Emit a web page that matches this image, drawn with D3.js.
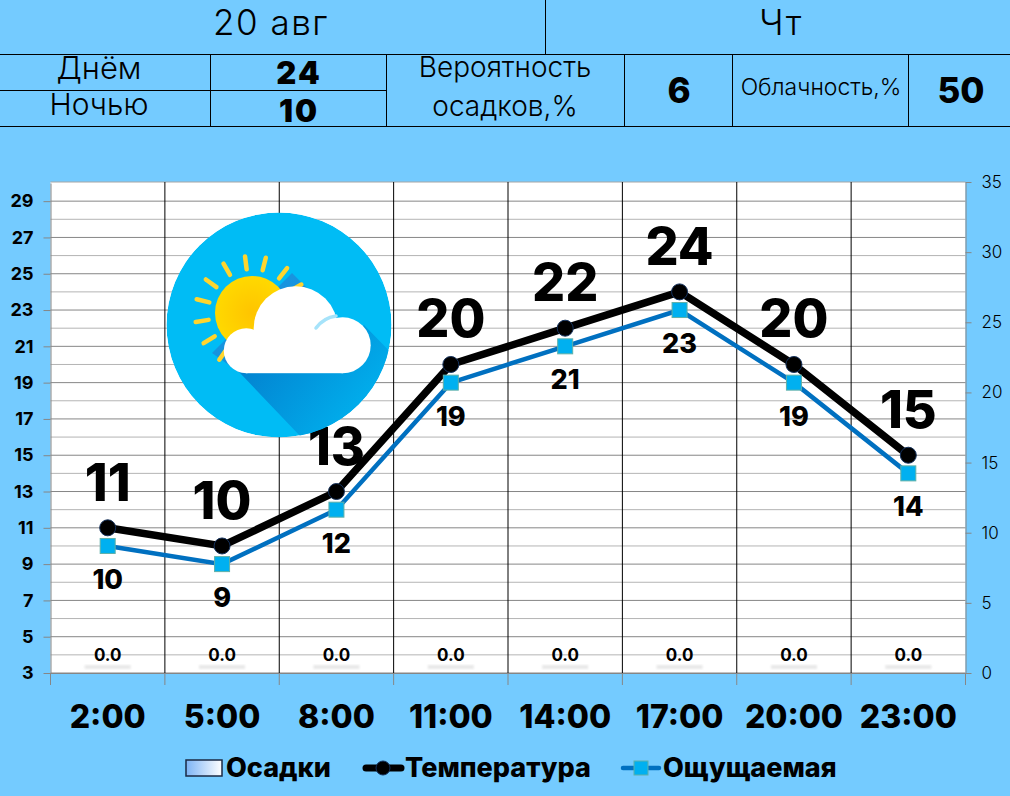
<!DOCTYPE html>
<html>
<head>
    <meta charset="utf-8"/>
    <title>Погода 20 авг</title>
    <script src="https://d3js.org/d3.v7.min.js"></script>
    <style>
        html, body { margin: 0; padding: 0; background: #74cbff; }
        svg { display: block; }
        text { font-family: Inter, "Noto Sans", sans-serif; fill: #000; }
    </style>
</head>
<body>
<div id="chart"></div>
<script>
    const hours = ['2:00', '5:00', '8:00', '11:00', '14:00', '17:00', '20:00', '23:00']
    const temperature = [11, 10, 13, 20, 22, 24, 20, 15]
    const feelsLike = [10, 9, 12, 19, 21, 23, 19, 14]
    const precipitation = [0, 0, 0, 0, 0, 0, 0, 0]
    const leftTicks = [3, 5, 7, 9, 11, 13, 15, 17, 19, 21, 23, 25, 27, 29]
    const minorTicks = [4, 6, 8, 10, 12, 14, 16, 18, 20, 22, 24, 26, 28]
    const rightTicks = [0, 5, 10, 15, 20, 25, 30, 35]
    const dayTitle = ['20 авг', 'Чт']
    const summaryLabels = ['Днём', 'Ночью']
    const summaryValues = ['24', '10']
    const rayAngles = [-166, -144, -120, -97, -76, -52, -30, 125, 148, 171]

    const width = 1010
    const height = 796
    const plot = { left: 50.5, right: 965.5, top: 182, bottom: 673 }
    const BG = '#74cbff'
    const LINE_DARK = '#000000'

    const svg = d3.select('#chart').append('svg')
        .attr('width', width).attr('height', height)
    svg.append('rect').attr('width', width).attr('height', height).attr('fill', BG)

    const defs = svg.append('defs')
    const swatchGrad = defs.append('linearGradient').attr('id', 'swatch')
    swatchGrad.append('stop').attr('offset', '0%').attr('stop-color', '#7db4f5')
    swatchGrad.append('stop').attr('offset', '100%').attr('stop-color', '#ffffff')
    const shadowGrad = defs.append('linearGradient').attr('id', 'longShadow')
        .attr('x1', '0%').attr('y1', '0%').attr('x2', '100%').attr('y2', '60%')
    shadowGrad.append('stop').attr('offset', '0%').attr('stop-color', '#0478c9')
    shadowGrad.append('stop').attr('offset', '100%').attr('stop-color', '#00b4f0')
    const sunShadeGrad = defs.append('linearGradient').attr('id', 'sunShade')
        .attr('x1', '0%').attr('y1', '0%').attr('x2', '100%').attr('y2', '100%')
    sunShadeGrad.append('stop').attr('offset', '0%').attr('stop-color', '#1f97e0')
    sunShadeGrad.append('stop').attr('offset', '100%').attr('stop-color', '#0a8fdc')
    const sunGrad = defs.append('radialGradient').attr('id', 'sun')
    sunGrad.append('stop').attr('offset', '0%').attr('stop-color', '#ffc400')
    sunGrad.append('stop').attr('offset', '100%').attr('stop-color', '#ffd900')
    defs.append('filter').attr('id', 'blur').append('feGaussianBlur').attr('stdDeviation', 1)
    defs.append('clipPath').attr('id', 'iconClip').append('circle').attr('r', 112.5)

    drawHeader()
    drawPlot()
    drawIcon()
    drawLegend()

    function hLine(x1, x2, y) {
        svg.append('line').attr('x1', x1).attr('x2', x2).attr('y1', y).attr('y2', y)
            .attr('stroke', LINE_DARK).attr('stroke-width', 1)
    }

    function vLine(x, y1, y2) {
        svg.append('line').attr('x1', x).attr('x2', x).attr('y1', y1).attr('y2', y2)
            .attr('stroke', LINE_DARK).attr('stroke-width', 1)
    }

    function label(x, y, str, size, weight, spacing) {
        return svg.append('text').attr('x', x).attr('y', y)
            .attr('text-anchor', 'middle')
            .attr('font-size', size).attr('font-weight', weight)
            .attr('letter-spacing', spacing || 0)
            .text(str)
    }

    function drawHeader() {
        hLine(0, width, 54.5)
        hLine(0, 386, 90.5)
        hLine(0, width, 126.5)
        vLine(545.5, 0, 54)
        ;[210.5, 386.5, 624.5, 732.5, 908.5].forEach(x => vLine(x, 54, 126))

        label(271, 35, dayTitle[0], 35, 300, 1.5)
        label(781, 35, dayTitle[1], 35, 300, 1.5)
        label(99, 79, summaryLabels[0], 31, 300)
        label(99, 115, summaryLabels[1], 30, 300)
        label(299, 84, summaryValues[0], 31, 900, 2)
        label(299, 122, summaryValues[1], 31, 900, 2)
        label(505, 77, 'Вероятность', 28, 300)
        label(505, 116, 'осадков,%', 28, 300)
        label(679, 103, '6', 35, 800)
        label(821, 95, 'Облачность,%', 23, 300)
        label(961, 103, '50', 35, 800)
    }

    function drawPlot() {
        const x = d3.scaleBand().domain(hours).range([plot.left, plot.right])
        const yLeft = d3.scaleLinear().domain([3, 30]).range([plot.bottom, plot.top + 1])
        const yRight = d3.scaleLinear().domain([0, 35]).range([plot.bottom, plot.top])
        const cx = d => x(d) + x.bandwidth() / 2

        svg.append('rect')
            .attr('x', plot.left).attr('y', plot.top)
            .attr('width', plot.right - plot.left).attr('height', plot.bottom - plot.top)
            .attr('fill', '#ffffff')

        // horizontal grid, odd values are darker
        svg.append('g').selectAll('line').data(minorTicks).join('line')
            .attr('x1', plot.left).attr('x2', plot.right)
            .attr('y1', d => yLeft(d)).attr('y2', d => yLeft(d))
            .attr('stroke', '#b4b4b4').attr('stroke-width', 1)
        svg.append('g').selectAll('line').data(leftTicks).join('line')
            .attr('x1', plot.left).attr('x2', plot.right)
            .attr('y1', d => yLeft(d)).attr('y2', d => yLeft(d))
            .attr('stroke', '#868686').attr('stroke-width', 1)
        svg.append('line')
            .attr('x1', plot.left).attr('x2', plot.right)
            .attr('y1', plot.top).attr('y2', plot.top)
            .attr('stroke', '#a6a6a6').attr('stroke-width', 1)

        // vertical separators between the hours
        svg.append('g').selectAll('line').data(hours.slice(1)).join('line')
            .attr('x1', d => x(d)).attr('x2', d => x(d))
            .attr('y1', plot.top).attr('y2', plot.bottom)
            .attr('stroke', '#000').attr('stroke-width', 1)

        // precipitation bars, all zero: only the soft shadow is visible
        svg.append('g').selectAll('rect').data(precipitation).join('rect')
            .attr('x', (d, i) => cx(hours[i]) - 23)
            .attr('y', d => yRight(d) - 8)
            .attr('width', 46).attr('height', 4)
            .attr('fill', '#e8e8e8').attr('filter', 'url(#blur)')
        svg.append('g').selectAll('text').data(precipitation).join('text')
            .attr('x', (d, i) => cx(hours[i]))
            .attr('y', d => yRight(d) - 12)
            .attr('text-anchor', 'middle')
            .attr('font-size', 17).attr('font-weight', 700)
            .text(d => d.toFixed(1))

        const xAxis = svg.append('g')
            .attr('transform', `translate(0,${plot.bottom})`)
            .call(d3.axisBottom(x).tickValues([]).tickSizeOuter(0))
        xAxis.select('.domain').attr('stroke', '#868686')
        svg.append('g').selectAll('line').data(hours.concat(['end'])).join('line')
            .attr('x1', (d, i) => i < hours.length ? x(d) : plot.right)
            .attr('x2', (d, i) => i < hours.length ? x(d) : plot.right)
            .attr('y1', plot.bottom).attr('y2', plot.bottom + 12)
            .attr('stroke', '#868686')
        svg.append('g').selectAll('text').data(hours).join('text')
            .attr('x', d => cx(d)).attr('y', 728)
            .attr('text-anchor', 'middle')
            .attr('font-size', 32).attr('font-weight', 800)
            .text(d => d)

        const leftAxis = svg.append('g')
            .attr('transform', `translate(${plot.left},0)`)
            .call(d3.axisLeft(yLeft).tickValues(leftTicks).tickSize(7).tickSizeOuter(0).tickPadding(10))
        leftAxis.select('.domain').attr('stroke', '#868686')
        leftAxis.selectAll('.tick line').attr('stroke', '#868686')
        leftAxis.selectAll('.tick text')
            .attr('font-family', 'Inter').attr('font-size', 18).attr('font-weight', 700).attr('fill', '#000')

        const rightAxis = svg.append('g')
            .attr('transform', `translate(${plot.right},0)`)
            .call(d3.axisRight(yRight).tickValues(rightTicks).tickSize(6).tickSizeOuter(0).tickPadding(10))
        rightAxis.select('.domain').attr('stroke', '#868686')
        rightAxis.selectAll('.tick line').attr('stroke', '#868686')
        rightAxis.selectAll('.tick text')
            .attr('font-family', 'Inter').attr('font-size', 17).attr('font-weight', 300).attr('fill', '#000')

        const lineOf = d3.line().x((d, i) => cx(hours[i])).y(d => yLeft(d))

        svg.append('path').datum(feelsLike)
            .attr('d', lineOf).attr('fill', 'none')
            .attr('stroke', '#0070c0').attr('stroke-width', 4.5)
        svg.append('path').datum(temperature)
            .attr('d', lineOf).attr('fill', 'none')
            .attr('stroke', '#000').attr('stroke-width', 7.5)

        svg.append('g').selectAll('rect').data(feelsLike).join('rect')
            .attr('x', (d, i) => cx(hours[i]) - 7.5)
            .attr('y', d => yLeft(d) - 7.5)
            .attr('width', 15).attr('height', 15)
            .attr('fill', '#00b0f0').attr('stroke', '#5fb0a8').attr('stroke-width', 1)
        svg.append('g').selectAll('circle').data(temperature).join('circle')
            .attr('cx', (d, i) => cx(hours[i]))
            .attr('cy', d => yLeft(d))
            .attr('r', 8)
            .attr('fill', '#000').attr('stroke', '#14315c').attr('stroke-width', 1)

        svg.append('g').selectAll('text').data(temperature).join('text')
            .attr('x', (d, i) => cx(hours[i]))
            .attr('y', d => yLeft(d) - 27)
            .attr('text-anchor', 'middle')
            .attr('font-size', 52).attr('font-weight', 800)
            .text(d => d)
        svg.append('g').selectAll('text').data(feelsLike).join('text')
            .attr('x', (d, i) => cx(hours[i]))
            .attr('y', d => yLeft(d) + 43)
            .attr('text-anchor', 'middle')
            .attr('font-size', 27).attr('font-weight', 800)
            .text(d => d)
    }

    function drawIcon() {
        const sunX = -27
        const sunY = -12
        const g = svg.append('g').attr('transform', 'translate(279,325)')
        const clipped = g.append('g').attr('clip-path', 'url(#iconClip)')
        clipped.append('circle').attr('r', 112.5).attr('fill', '#00bcf5')

        // long shadow of the cloud
        clipped.append('path')
            .attr('d', 'M-39,48 L22,112 L120,112 L120,36 L85,0 L60,20 Z')
            .attr('fill', 'url(#longShadow)')

        // shadow of sun and rays, stops at the cloud base
        clipped.append('path')
            .attr('d', 'M13,-52 L60,-5 L20,40 L-39,48 L-67,28 Z')
            .attr('fill', 'url(#sunShade)')

        g.append('g').selectAll('line').data(rayAngles).join('line')
            .attr('x1', d => sunX + 44 * Math.cos(d * Math.PI / 180))
            .attr('y1', d => sunY + 44 * Math.sin(d * Math.PI / 180))
            .attr('x2', d => sunX + 57 * Math.cos(d * Math.PI / 180))
            .attr('y2', d => sunY + 57 * Math.sin(d * Math.PI / 180))
            .attr('stroke', '#ffd52e').attr('stroke-width', 4.5).attr('stroke-linecap', 'round')

        g.append('circle').attr('cx', sunX).attr('cy', sunY).attr('r', 37).attr('fill', 'url(#sun)')

        // cloud: three bumps on a flat base
        const cloud = g.append('g').attr('fill', '#ffffff')
        cloud.append('circle').attr('cx', -32.7).attr('cy', 25.7).attr('r', 22.5)
        cloud.append('circle').attr('cx', 16.7).attr('cy', 3.3).attr('r', 42)
        cloud.append('circle').attr('cx', 63.7).attr('cy', 20.3).attr('r', 28)
        cloud.append('rect').attr('x', -33).attr('y', 10).attr('width', 97).attr('height', 38.2)

        g.append('path')
            .attr('d', 'M37,3 A30,30 0 0 1 57,-9')
            .attr('fill', 'none').attr('stroke', '#a6e3fa').attr('stroke-width', 3.5).attr('stroke-linecap', 'round')
    }

    function drawLegend() {
        const y = 768
        svg.append('rect')
            .attr('x', 186).attr('y', y - 8).attr('width', 36).attr('height', 16)
            .attr('fill', 'url(#swatch)').attr('stroke', '#1a2a44').attr('stroke-width', 1.5)
        svg.append('line').attr('x1', 366).attr('x2', 401).attr('y1', y).attr('y2', y)
            .attr('stroke', '#000').attr('stroke-width', 7).attr('stroke-linecap', 'round')
        svg.append('circle').attr('cx', 383).attr('cy', y).attr('r', 7)
            .attr('fill', '#000').attr('stroke', '#14315c')
        svg.append('line').attr('x1', 623).attr('x2', 659).attr('y1', y).attr('y2', y)
            .attr('stroke', '#0070c0').attr('stroke-width', 4.5).attr('stroke-linecap', 'round')
        svg.append('rect').attr('x', 634).attr('y', y - 7).attr('width', 14).attr('height', 14)
            .attr('fill', '#00b0f0').attr('stroke', '#5fb0a8')

        ;[['Осадки', 226], ['Температура', 405], ['Ощущаемая', 663]].forEach(([str, lx]) => {
            svg.append('text').attr('x', lx).attr('y', y + 9)
                .attr('font-size', 27).attr('font-weight', 800).text(str)
        })
    }
</script>
</body>
</html>
